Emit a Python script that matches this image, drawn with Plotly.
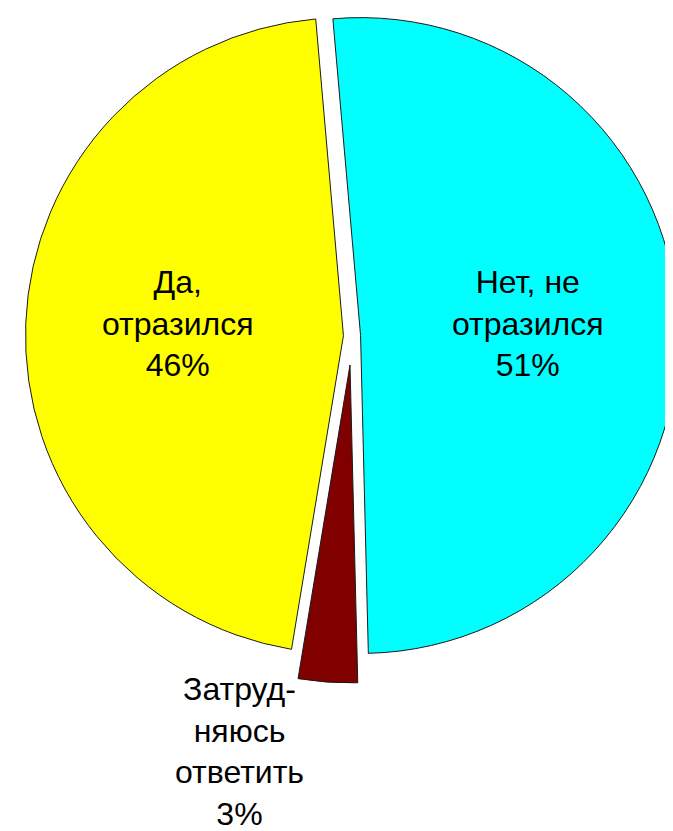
import plotly.graph_objects as go

labels = ["Нет, не<br>отразился", "Затруд-<br>няюсь<br>ответить", "Да,<br>отразился"]
values = [51, 3, 46]
colors = ["#00FFFF", "#800000", "#FFFF00"]
pulls = [0.027, 0.0, 0.027]
exploded = [False, True, False]   # the small slice is pushed further out

# label centres in pixels (x, y from top)
label_pos = [(520, 315), (231, 743), (170, 315)]

W, H = 673, 831
EDGE = "#1a1a1a"

# main pie domain (pixels -> paper)
cx, cy, box = 344, 328, 653
# offset of the exploded slice, in pixels
dx, dy = -2, 29


def dom(cxp, cyp):
    return dict(x=[(cxp - box / 2) / W, (cxp + box / 2) / W],
                y=[1 - (cyp + box / 2) / H, 1 - (cyp - box / 2) / H])


fig = go.Figure()
fig.add_trace(go.Pie(
    labels=labels, values=values, sort=False, direction="clockwise", rotation=-5,
    pull=pulls,
    marker=dict(colors=[("rgba(0,0,0,0)" if e else c) for c, e in zip(colors, exploded)],
                line=dict(color=EDGE, width=[0 if e else 1 for e in exploded])),
    textinfo="none", hoverinfo="label+percent",
    domain=dom(cx, cy), showlegend=False,
))
fig.add_trace(go.Pie(
    labels=labels, values=values, sort=False, direction="clockwise", rotation=-5,
    pull=pulls,
    marker=dict(colors=[(c if e else "rgba(0,0,0,0)") for c, e in zip(colors, exploded)],
                line=dict(color=EDGE, width=[1 if e else 0 for e in exploded])),
    textinfo="none", hoverinfo="skip",
    domain=dom(cx + dx, cy + dy), showlegend=False,
))

annotations = []
for lab, v, (px, py) in zip(labels, values, label_pos):
    annotations.append(dict(
        text=f"{lab}<br>{v}%",
        x=px / W, y=1 - py / H, xref="paper", yref="paper",
        xanchor="center", yanchor="middle", showarrow=False,
        font=dict(family="Liberation Sans, Arial, sans-serif", size=32, color="#000000"),
        align="center",
    ))

fig.update_layout(
    width=W, height=H,
    margin=dict(l=0, r=0, t=0, b=0),
    paper_bgcolor="white",
    plot_bgcolor="white",
    annotations=annotations,
)

fig.write_html("out.html")
